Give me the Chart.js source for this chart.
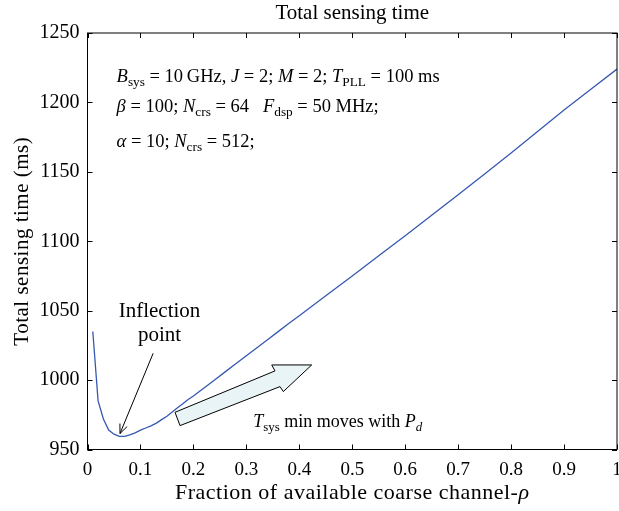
<!DOCTYPE html>
<html>
<head>
<meta charset="utf-8">
<script src="https://cdn.jsdelivr.net/npm/chart.js@4.4.1/dist/chart.umd.min.js"></script>
<style>
  body { margin: 0; background: #fff; }
  #wrap { width: 619px; height: 511px; }
</style>
</head>
<body>
<div id="wrap"><canvas id="myChart" width="619" height="511"></canvas></div>
<script>
// fraction of available coarse channel (rho)
const rho = [0.01, 0.02, 0.03, 0.04, 0.05, 0.06, 0.07, 0.08, 0.09, 0.10,
    0.11, 0.12, 0.13, 0.14, 0.15, 0.16, 0.17, 0.18, 0.19, 0.20,
    0.22, 0.24, 0.26, 0.28, 0.30, 0.32, 0.34, 0.36, 0.38, 0.40,
    0.45, 0.50, 0.55, 0.60, 0.65, 0.70, 0.75, 0.80, 0.85, 0.90, 0.95, 1.00];
// total sensing time (ms)
const tsys = [1035, 985, 972, 964, 961, 959.5, 959.5, 960.5, 962, 964,
    965.5, 967, 969, 971.5, 974, 977, 980, 983, 986, 988.5,
    994.3, 1000.1, 1005.9, 1011.7, 1017.5, 1023.3, 1029.1, 1034.9, 1040.7, 1046.3,
    1060.7, 1075, 1089.5, 1104, 1118.8, 1133.5, 1148.5, 1163.5, 1179, 1194.5, 1209.3, 1224];
const xTicks = [0, 0.1, 0.2, 0.3, 0.4, 0.5, 0.6, 0.7, 0.8, 0.9, 1];
const yTicks = [950, 1000, 1050, 1100, 1150, 1200, 1250];

const FONT = '"Liberation Serif", "Times New Roman", serif';

// parameter text, [text, style] ; style: '' normal, 'i' italic, 's' subscript
const paramLines = [
    [['B', 'i'], ['sys', 's'], [' = 10\u2009GHz, ', ''], ['J', 'i'], [' = 2; ', ''], ['M', 'i'], [' = 2; ', ''], ['T', 'i'], ['PLL', 's'], [' = 100 ms', '']],
    [['\u03b2', 'i'], [' = 100; ', ''], ['N', 'i'], ['crs', 's'], [' = 64   ', ''], ['F', 'i'], ['dsp', 's'], [' = 50 MHz;', '']],
    [['\u03b1', 'i'], [' = 10; ', ''], ['N', 'i'], ['crs', 's'], [' = 512;', '']]
];
const paramY = [1215, 1193, 1168];
const tsysNote = [['T', 'i'], ['sys', 's'], [' min moves with ', ''], ['P', 'i'], ['d', 'si']];
// big arrow outline in data units
const blockArrow = [[0.1653, 976.8], [0.3541, 1006.6], [0.3479, 1010.9], [0.4234, 1010.9],
    [0.3698, 991.7], [0.3636, 995.3], [0.1747, 967.2]];

function drawRich(ctx, x, y, parts, size) {
    parts.forEach(([t, st]) => {
        const sub = st.indexOf('s') >= 0;
        const ital = st.indexOf('i') >= 0;
        const fs = sub ? size * 0.72 : size;
        ctx.font = (ital ? 'italic ' : '') + fs + 'px ' + FONT;
        ctx.fillText(t, x, sub ? y + size * 0.22 : y);
        x += ctx.measureText(t).width;
    });
}

const decorations = {
    id: 'decorations',
    afterDraw(chart) {
        const ctx = chart.ctx;
        const a = chart.chartArea;
        const xs = chart.scales.x, ys = chart.scales.y;
        const px = v => xs.getPixelForValue(v), py = v => ys.getPixelForValue(v);
        ctx.save();
        ctx.strokeStyle = '#000';
        ctx.fillStyle = '#000';
        ctx.lineWidth = 1;
        // box
        ctx.strokeRect(a.left, a.top, a.right - a.left, a.bottom - a.top);
        // inward ticks
        ctx.beginPath();
        xTicks.forEach(v => {
            const x = Math.round(px(v)) + 0.5;
            ctx.moveTo(x, a.bottom); ctx.lineTo(x, a.bottom - 5);
            ctx.moveTo(x, a.top); ctx.lineTo(x, a.top + 5);
        });
        yTicks.forEach(v => {
            const y = Math.round(py(v)) + 0.5;
            ctx.moveTo(a.left, y); ctx.lineTo(a.left + 5, y);
            ctx.moveTo(a.right, y); ctx.lineTo(a.right - 5, y);
        });
        ctx.stroke();

        // titles
        ctx.textBaseline = 'alphabetic';
        ctx.textAlign = 'center';
        ctx.font = '21px ' + FONT;
        ctx.fillText('Total sensing time', (a.left + a.right) / 2, 19);

        ctx.letterSpacing = '0.5px';
        ctx.font = '22px ' + FONT;
        const xl = 'Fraction of available coarse channel-';
        ctx.textAlign = 'left';
        const w1 = ctx.measureText(xl).width;
        ctx.font = 'italic 22px ' + FONT;
        const w2 = ctx.measureText('\u03c1').width;
        let sx = (a.left + a.right) / 2 - (w1 + w2) / 2;
        ctx.font = '22px ' + FONT;
        ctx.fillText(xl, sx, 499);
        ctx.font = 'italic 22px ' + FONT;
        ctx.fillText('\u03c1', sx + w1, 499);
        ctx.save();
        ctx.translate(28, (a.top + a.bottom) / 2);
        ctx.rotate(-Math.PI / 2);
        ctx.textAlign = 'center';
        ctx.font = '21px ' + FONT;
        ctx.fillText('Total sensing time (ms)', 0, 0);
        ctx.restore();
        ctx.letterSpacing = '0px';

        // parameter block
        ctx.textAlign = 'left';
        paramLines.forEach((ln, i) => drawRich(ctx, px(0.055), py(paramY[i]), ln, 18.5));

        // inflection point note
        ctx.textAlign = 'center';
        ctx.font = '21px ' + FONT;
        ctx.fillText('Inflection', px(0.136), py(1045.5));
        ctx.fillText('point', px(0.136), py(1028));
        const x0 = px(0.124), y0 = py(1019.3), x1 = px(0.0614), y1 = py(961.5);
        ctx.beginPath();
        ctx.moveTo(x0, y0); ctx.lineTo(x1, y1);
        const ang = Math.atan2(y1 - y0, x1 - x0);
        ctx.moveTo(x1 - 10 * Math.cos(ang - 0.4), y1 - 10 * Math.sin(ang - 0.4));
        ctx.lineTo(x1, y1);
        ctx.lineTo(x1 - 10 * Math.cos(ang + 0.4), y1 - 10 * Math.sin(ang + 0.4));
        ctx.stroke();

        // block arrow
        ctx.beginPath();
        blockArrow.forEach(([u, v], i) => i ? ctx.lineTo(px(u), py(v)) : ctx.moveTo(px(u), py(v)));
        ctx.closePath();
        ctx.fillStyle = '#e9f4f6';
        ctx.fill();
        ctx.stroke();
        ctx.fillStyle = '#000';
        ctx.textAlign = 'left';
        drawRich(ctx, px(0.313), py(966.4), tsysNote, 18);
        ctx.restore();
    }
};

const data = {
    datasets: [{
        label: 'Total sensing time',
        data: rho.map((r, i) => ({ x: r, y: tsys[i] })),
        borderColor: '#3558b0',
        borderWidth: 1.3,
        pointRadius: 0,
        tension: 0,
        fill: false
    }]
};

const config = {
    type: 'line',
    data: data,
    options: {
        responsive: false,
        animation: false,
        devicePixelRatio: 1,
        layout: { padding: { left: 0, right: 2, top: 33, bottom: 0 } },
        scales: {
            x: {
                type: 'linear',
                min: 0,
                max: 1,
                afterFit: s => { s.height = 61.5; s.paddingLeft = 0; s.paddingRight = 0; },
                afterBuildTicks: s => { s.ticks = xTicks.map(v => ({ value: v })); },
                grid: { display: false, drawTicks: false },
                border: { display: false },
                ticks: {
                    color: '#000',
                    padding: 9,
                    maxRotation: 0,
                    font: { family: FONT, size: 19 },
                    callback: v => String(v)
                }
            },
            y: {
                min: 950,
                max: 1250,
                afterFit: s => { s.width = 87.5; s.paddingTop = 0; s.paddingBottom = 0; },
                afterBuildTicks: s => { s.ticks = yTicks.map(v => ({ value: v })); },
                grid: { display: false, drawTicks: false },
                border: { display: false },
                ticks: {
                    color: '#000',
                    padding: 8,
                    font: { family: FONT, size: 20 },
                    callback: v => String(v)
                }
            }
        },
        plugins: {
            legend: { display: false },
            tooltip: { enabled: false },
            title: { display: false }
        }
    },
    plugins: [decorations]
};

new Chart(document.getElementById('myChart'), config);
</script>
</body>
</html>
